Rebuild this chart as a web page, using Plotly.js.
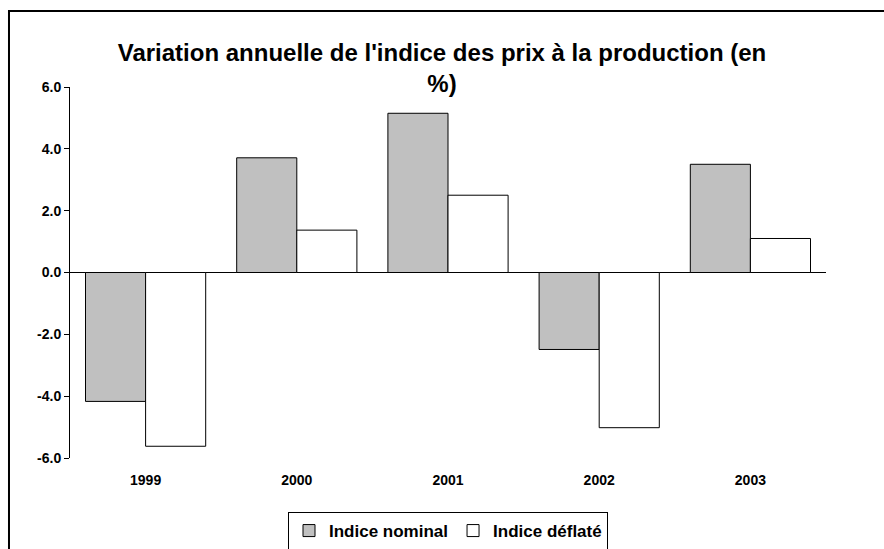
<!DOCTYPE html>
<html>
<head>
<meta charset="utf-8">
<script src="https://cdn.plot.ly/plotly-3.0.1.min.js"></script>
<style>html,body{margin:0;padding:0;background:#fff;}#chart{width:884px;height:549px;}</style>
</head>
<body>
<div id="chart"></div>
<script>
const years = ["1999", "2000", "2001", "2002", "2003"];
const nominal = [-4.17, 3.71, 5.15, -2.49, 3.5];
const deflated = [-5.62, 1.37, 2.5, -5.02, 1.1];
const seriesNames = ["Indice nominal", "Indice déflaté"];
const yTicks = [-6, -4, -2, 0, 2, 4, 6];
const yTickLabels = ["-6.0", "-4.0", "-2.0", "0.0", "2.0", "4.0", "6.0"];

const FONT = "Liberation Sans, Arial, sans-serif";

const traces = [
  {type: "bar", name: seriesNames[0], x: years, y: nominal,
   marker: {color: "#c0c0c0", line: {color: "#000", width: 1}}, hoverinfo: "x+y"},
  {type: "bar", name: seriesNames[1], x: years, y: deflated,
   marker: {color: "#ffffff", line: {color: "#000", width: 1}}, hoverinfo: "x+y"}
];

const layout = {
  width: 884, height: 549,
  margin: {l: 70, r: 58, t: 87, b: 91, autoexpand: false},
  paper_bgcolor: "#fff", plot_bgcolor: "#fff",
  font: {family: FONT, color: "#000"},
  title: {
    text: "<b>Variation annuelle de l'indice des prix à la production (en<br>%)</b>",
    font: {family: FONT, size: 24, color: "#000"},
    x: 0.5, xanchor: "center", y: 0.889, yanchor: "middle", yref: "container"
  },
  barmode: "group", bargap: 0.205, bargroupgap: 0,
  showlegend: true,
  legend: {
    orientation: "h", x: 0.5, xanchor: "center", y: -0.1456, yanchor: "top",
    bordercolor: "#000", borderwidth: 1, bgcolor: "#fff",
    font: {family: FONT, size: 17, color: "#000", weight: "bold"},
    itemwidth: 30, traceorder: "normal"
  },
  xaxis: {
    type: "category", showgrid: false, zeroline: false, showline: false,
    ticks: "", tickfont: {family: FONT, size: 14, color: "#000", weight: "bold"},
    ticklabelstandoff: 12
  },
  yaxis: {
    range: [-6, 6], tickvals: yTicks, ticktext: yTickLabels,
    showgrid: false, zeroline: true, zerolinecolor: "#000", zerolinewidth: 1,
    showline: true, linecolor: "#000", linewidth: 1,
    ticks: "outside", ticklen: 5, tickcolor: "#000",
    tickfont: {family: FONT, size: 14, color: "#000", weight: "bold"}
  },
  shapes: [{
    type: "rect", xref: "paper", yref: "paper",
    x0: -0.0807, x1: 1.3, y0: -0.5, y1: 1.2049,
    line: {color: "#000", width: 2}, layer: "below"
  }]
};

Plotly.newPlot("chart", traces, layout, {displayModeBar: false, staticPlot: true});
</script>
</body>
</html>
